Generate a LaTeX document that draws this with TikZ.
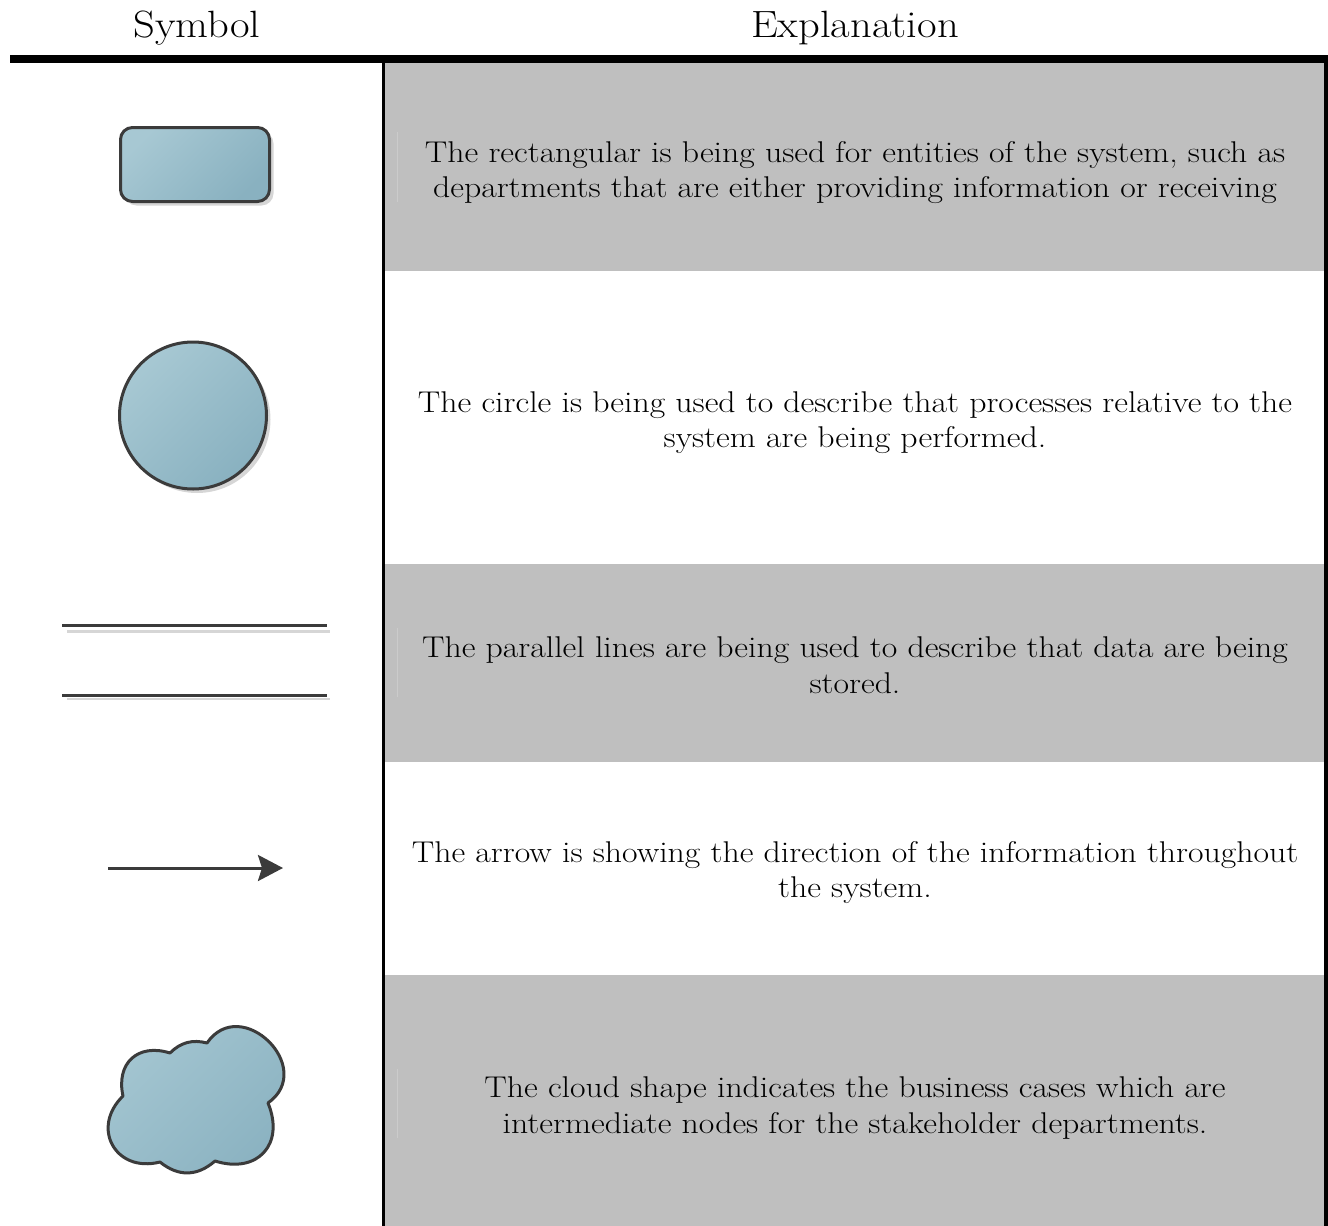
\documentclass[tikz,border=0pt]{standalone}
\usepackage{graphicx}
\usetikzlibrary{arrows.meta,shadows}

\definecolor{bandgray}{HTML}{BFBFBF}
\definecolor{seamgray}{HTML}{CBCBCB}
\definecolor{symline}{HTML}{3B3B3B}
\definecolor{symlight}{HTML}{A7C8D3}
\definecolor{symdark}{HTML}{89B1C0}
\definecolor{shadowgray}{HTML}{D6D6D6}

% slightly widened lines of text
\newcommand\headline[1]{\scalebox{1.12}[1]{#1}}
\newcommand\bodyline[1]{\scalebox{1.124}[1]{#1}}

\tikzset{
  headtext/.style={anchor=base, inner sep=0pt, font=\fontsize{38}{45}\selectfont},
  bodytext/.style={anchor=base, inner sep=0pt, font=\fontsize{30}{36}\selectfont},
  band/.style={fill=bandgray},
  seam/.style={draw=seamgray, line width=1pt},
  symfill/.style={draw=symline, line width=3pt, line join=round, top color=symlight, bottom color=symdark, shading angle=45},
  symshadow/.style={drop shadow={shadow xshift=4pt, shadow yshift=-4pt, fill=shadowgray, opacity=1}},
  storeline/.style={draw=symline, line width=3.2pt},
  storeshadow/.style={draw=shadowgray, line width=2.5pt},
  flowarrow/.style={draw=symline, line width=3pt, -{Stealth[length=25pt, width=26pt, inset=4pt]}},
  lobe/.style={out=#1, in=180-#1, relative},
}

% outline of the cloud, passing through the dips between its lobes
\newcommand\cloudpath{(cd1) to[lobe=60, looseness=1.35] (cd2)
  to[lobe=30] (cd3)
  to[lobe=100, looseness=1.8] (cd4)
  to[lobe=65, looseness=1.45] (cd5)
  to[lobe=40, looseness=1.1] (cd6)
  to[lobe=75, looseness=1.55] (cd1) -- cycle}

\begin{document}
\begin{tikzpicture}[x=1pt, y=-1pt]
  \useasboundingbox (0,0) rectangle (1328,1226);

  % shaded rows of the explanation column
  \fill[band] (385,63) rectangle (1324,271);
  \fill[band] (385,564) rectangle (1324,762);
  \fill[band] (385,975) rectangle (1324,1226);
  \draw[seam] (397,132) -- (397,202);
  \draw[seam] (397,628) -- (397,697);
  \draw[seam] (397,1069) -- (397,1138);

  % rules of the table
  \fill (10,55) rectangle (1328,63);
  \fill (382,63) rectangle (385,1226);
  \fill (1324,63) rectangle (1328,1226);

  % column headings
  \node[headtext] (hsym) at (197,37) {\headline{Symbol}};
  \node[headtext] (hexp) at (855,37) {\headline{Explanation}};

  % entity: rounded rectangle
  \node[symfill, symshadow, rectangle, rounded corners=12pt, minimum width=149pt,
        minimum height=74pt, inner sep=0pt] (entity) at (195,164.5) {};

  % process: circle
  \node[symfill, symshadow, circle, minimum size=147pt, inner sep=0pt] (process) at (193,415.5) {};

  % data store: two parallel lines
  \draw[storeshadow] (67,631.5) -- (330,631.5);
  \draw[storeshadow] (67,699) -- (330,699);
  \coordinate (storeA1) at (62,625.5);
  \coordinate (storeA2) at (327,625.5);
  \coordinate (storeB1) at (62,695.5);
  \coordinate (storeB2) at (327,695.5);
  \draw[storeline] (storeA1) -- (storeA2);
  \draw[storeline] (storeB1) -- (storeB2);

  % data flow: arrow
  \coordinate (flowS) at (108,868);
  \coordinate (flowE) at (283,868);
  \draw[flowarrow] (flowS) -- (flowE);

  % business case: cloud
  \coordinate (cd1) at (123,1096);
  \coordinate (cd2) at (170,1053);
  \coordinate (cd3) at (207,1043);
  \coordinate (cd4) at (268,1103);
  \coordinate (cd5) at (215,1161);
  \coordinate (cd6) at (160,1162);
  \begin{scope}[shift={(4,4)}]
    \fill[shadowgray] \cloudpath;
  \end{scope}
  \path[symfill] \cloudpath;

  % explanations
  \node[bodytext] (e1a) at (855,162) {\bodyline{The rectangular is being used for entities of the system, such as}};
  \node[bodytext] (e1b) at (855,197) {\bodyline{departments that are either providing information or receiving}};
  \node[bodytext] (e2a) at (855,412) {\bodyline{The circle is being used to describe that processes relative to the}};
  \node[bodytext] (e2b) at (855,447) {\bodyline{system are being performed.}};
  \node[bodytext] (e3a) at (855,657) {\bodyline{The parallel lines are being used to describe that data are being}};
  \node[bodytext] (e3b) at (855,693) {\bodyline{stored.}};
  \node[bodytext] (e4a) at (855,862) {\bodyline{The arrow is showing the direction of the information throughout}};
  \node[bodytext] (e4b) at (855,897) {\bodyline{the system.}};
  \node[bodytext] (e5a) at (855,1097) {\bodyline{The cloud shape indicates the business cases which are}};
  \node[bodytext] (e5b) at (855,1133) {\bodyline{intermediate nodes for the stakeholder departments.}};
\end{tikzpicture}
\end{document}
